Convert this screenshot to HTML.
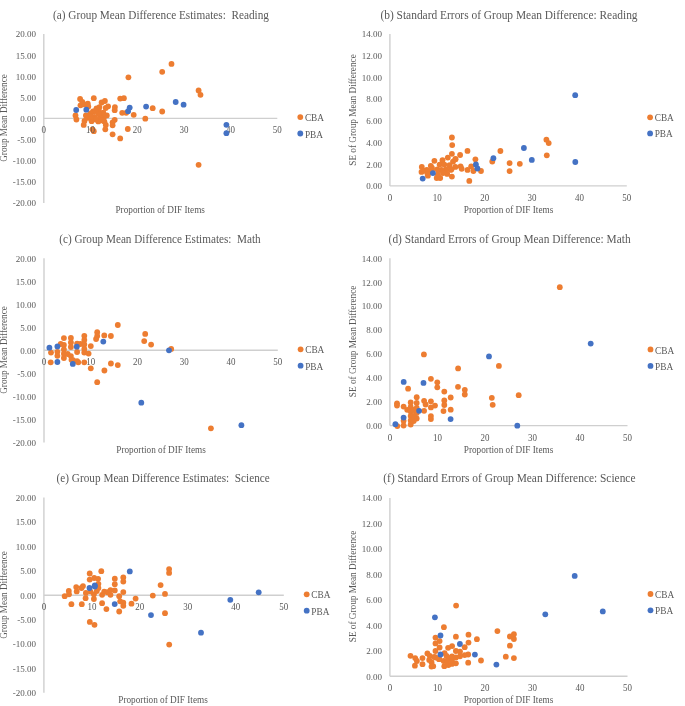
<!DOCTYPE html>
<html><head><meta charset="utf-8"><style>
html,body{margin:0;padding:0;background:#fff;width:685px;height:706px;overflow:hidden}
svg{display:block;will-change:transform}
text{font-family:"Liberation Serif",serif;fill:#595959}
</style></head><body>
<svg width="685" height="706" viewBox="0 0 685 706">
<rect width="685" height="706" fill="#fff"/>
<line x1="43.80" y1="34.10" x2="43.80" y2="202.90" stroke="#CFCFCF" stroke-width="1.4"/>
<line x1="43.80" y1="118.40" x2="277.30" y2="118.40" stroke="#CFCFCF" stroke-width="1.4"/>
<g fill="#ED7D31"><circle cx="80.1" cy="99.0" r="2.9"/><circle cx="93.8" cy="98.2" r="2.9"/><circle cx="80.5" cy="105.3" r="2.9"/><circle cx="84.3" cy="104.4" r="2.9"/><circle cx="87.8" cy="103.7" r="2.9"/><circle cx="88.3" cy="106.6" r="2.9"/><circle cx="75.5" cy="115.5" r="2.9"/><circle cx="76.4" cy="119.5" r="2.9"/><circle cx="101.6" cy="102.5" r="2.9"/><circle cx="104.9" cy="101.0" r="2.9"/><circle cx="108.1" cy="106.3" r="2.9"/><circle cx="105.7" cy="108.0" r="2.9"/><circle cx="99.4" cy="107.1" r="2.9"/><circle cx="97.6" cy="109.3" r="2.9"/><circle cx="96.5" cy="108.5" r="2.9"/><circle cx="93.0" cy="111.5" r="2.9"/><circle cx="114.9" cy="107.1" r="2.9"/><circle cx="114.7" cy="110.2" r="2.9"/><circle cx="120.2" cy="98.6" r="2.9"/><circle cx="123.9" cy="98.2" r="2.9"/><circle cx="122.2" cy="112.8" r="2.9"/><circle cx="126.2" cy="112.8" r="2.9"/><circle cx="106.8" cy="115.4" r="2.9"/><circle cx="102.9" cy="112.8" r="2.9"/><circle cx="103.8" cy="117.7" r="2.9"/><circle cx="99.4" cy="120.3" r="2.9"/><circle cx="104.4" cy="121.6" r="2.9"/><circle cx="85.9" cy="115.4" r="2.9"/><circle cx="84.5" cy="120.9" r="2.9"/><circle cx="83.7" cy="124.9" r="2.9"/><circle cx="91.6" cy="121.2" r="2.9"/><circle cx="98.3" cy="121.4" r="2.9"/><circle cx="98.8" cy="110.0" r="2.9"/><circle cx="95.4" cy="111.0" r="2.9"/><circle cx="90.4" cy="113.5" r="2.9"/><circle cx="87.9" cy="117.9" r="2.9"/><circle cx="94.4" cy="116.9" r="2.9"/><circle cx="100.3" cy="116.4" r="2.9"/><circle cx="101.8" cy="120.4" r="2.9"/><circle cx="103.3" cy="113.0" r="2.9"/><circle cx="105.8" cy="124.9" r="2.9"/><circle cx="105.3" cy="129.3" r="2.9"/><circle cx="92.5" cy="129.3" r="2.9"/><circle cx="93.8" cy="131.2" r="2.9"/><circle cx="82.3" cy="102.0" r="2.9"/><circle cx="91.0" cy="116.7" r="2.9"/><circle cx="98.4" cy="114.1" r="2.9"/><circle cx="96.0" cy="119.5" r="2.9"/><circle cx="114.7" cy="119.8" r="2.9"/><circle cx="112.6" cy="122.3" r="2.9"/><circle cx="112.6" cy="125.3" r="2.9"/><circle cx="112.6" cy="134.3" r="2.9"/><circle cx="120.2" cy="138.4" r="2.9"/><circle cx="127.8" cy="129.0" r="2.9"/><circle cx="133.7" cy="114.8" r="2.9"/><circle cx="145.3" cy="118.7" r="2.9"/><circle cx="152.7" cy="108.2" r="2.9"/><circle cx="162.2" cy="111.5" r="2.9"/><circle cx="128.4" cy="77.3" r="2.9"/><circle cx="162.2" cy="71.8" r="2.9"/><circle cx="171.5" cy="63.9" r="2.9"/><circle cx="198.6" cy="90.5" r="2.9"/><circle cx="200.5" cy="94.8" r="2.9"/><circle cx="198.6" cy="164.8" r="2.9"/></g>
<text x="36.00" y="34.40" font-size="9" text-anchor="end" dominant-baseline="central" >20.00</text>
<text x="36.00" y="55.50" font-size="9" text-anchor="end" dominant-baseline="central" >15.00</text>
<text x="36.00" y="76.60" font-size="9" text-anchor="end" dominant-baseline="central" >10.00</text>
<text x="36.00" y="97.70" font-size="9" text-anchor="end" dominant-baseline="central" >5.00</text>
<text x="36.00" y="118.80" font-size="9" text-anchor="end" dominant-baseline="central" >0.00</text>
<text x="36.00" y="139.90" font-size="9" text-anchor="end" dominant-baseline="central" >-5.00</text>
<text x="36.00" y="161.00" font-size="9" text-anchor="end" dominant-baseline="central" >-10.00</text>
<text x="36.00" y="182.10" font-size="9" text-anchor="end" dominant-baseline="central" >-15.00</text>
<text x="36.00" y="203.20" font-size="9" text-anchor="end" dominant-baseline="central" >-20.00</text>
<text x="0" y="0" font-size="9" text-anchor="middle" dominant-baseline="central" transform="translate(43.80,129.90) scale(1,1.08)" >0</text>
<text x="0" y="0" font-size="9" text-anchor="middle" dominant-baseline="central" transform="translate(90.50,129.90) scale(1,1.08)" >10</text>
<text x="0" y="0" font-size="9" text-anchor="middle" dominant-baseline="central" transform="translate(137.20,129.90) scale(1,1.08)" >20</text>
<text x="0" y="0" font-size="9" text-anchor="middle" dominant-baseline="central" transform="translate(183.90,129.90) scale(1,1.08)" >30</text>
<text x="0" y="0" font-size="9" text-anchor="middle" dominant-baseline="central" transform="translate(230.60,129.90) scale(1,1.08)" >40</text>
<text x="0" y="0" font-size="9" text-anchor="middle" dominant-baseline="central" transform="translate(277.30,129.90) scale(1,1.08)" >50</text>
<text x="161.00" y="14.90" font-size="12" text-anchor="middle" dominant-baseline="central" textLength="216.0" lengthAdjust="spacingAndGlyphs">(a) Group Mean Difference Estimates:  Reading</text>
<text x="160.20" y="210.40" font-size="9.5" text-anchor="middle" dominant-baseline="central" textLength="89.5" lengthAdjust="spacingAndGlyphs">Proportion of DIF Items</text>
<text x="0" y="0" font-size="9.5" text-anchor="middle" dominant-baseline="central" textLength="87.5" lengthAdjust="spacingAndGlyphs" transform="translate(3.7,118) rotate(-90)">Group Mean Difference</text>
<circle cx="300.3" cy="117.1" r="2.9" fill="#ED7D31"/>
<circle cx="300.3" cy="133.5" r="2.9" fill="#4472C4"/>
<text x="0" y="0" font-size="9.3" text-anchor="start" dominant-baseline="central" transform="translate(304.90,117.60) scale(1,1.08)" >CBA</text>
<text x="0" y="0" font-size="9.3" text-anchor="start" dominant-baseline="central" transform="translate(304.90,133.90) scale(1,1.08)" >PBA</text>
<g fill="#4472C4"><circle cx="76.2" cy="110.0" r="2.9"/><circle cx="86.3" cy="109.7" r="2.9"/><circle cx="129.7" cy="107.6" r="2.9"/><circle cx="128.1" cy="111.2" r="2.9"/><circle cx="146.1" cy="106.6" r="2.9"/><circle cx="175.7" cy="102.0" r="2.9"/><circle cx="183.6" cy="104.7" r="2.9"/><circle cx="226.4" cy="124.8" r="2.9"/><circle cx="226.4" cy="133.2" r="2.9"/></g>
<line x1="389.90" y1="34.10" x2="389.90" y2="185.90" stroke="#CFCFCF" stroke-width="1.4"/>
<line x1="389.90" y1="185.90" x2="626.80" y2="185.90" stroke="#CFCFCF" stroke-width="1.4"/>
<g fill="#ED7D31"><circle cx="451.9" cy="137.5" r="2.9"/><circle cx="452.2" cy="145.1" r="2.9"/><circle cx="451.9" cy="153.8" r="2.9"/><circle cx="447.8" cy="157.6" r="2.9"/><circle cx="434.4" cy="160.8" r="2.9"/><circle cx="421.8" cy="166.9" r="2.9"/><circle cx="442.5" cy="160.2" r="2.9"/><circle cx="455.4" cy="159.0" r="2.9"/><circle cx="453.0" cy="161.7" r="2.9"/><circle cx="430.8" cy="165.8" r="2.9"/><circle cx="421.5" cy="171.9" r="2.9"/><circle cx="427.9" cy="175.7" r="2.9"/><circle cx="436.7" cy="178.0" r="2.9"/><circle cx="440.2" cy="178.0" r="2.9"/><circle cx="451.9" cy="176.6" r="2.9"/><circle cx="439.6" cy="164.6" r="2.9"/><circle cx="444.3" cy="164.6" r="2.9"/><circle cx="449.5" cy="165.2" r="2.9"/><circle cx="450.7" cy="169.9" r="2.9"/><circle cx="446.0" cy="169.3" r="2.9"/><circle cx="441.4" cy="169.9" r="2.9"/><circle cx="437.3" cy="169.3" r="2.9"/><circle cx="447.2" cy="173.9" r="2.9"/><circle cx="437.9" cy="174.5" r="2.9"/><circle cx="426.8" cy="169.9" r="2.9"/><circle cx="455.4" cy="166.9" r="2.9"/><circle cx="432.0" cy="170.0" r="2.9"/><circle cx="443.0" cy="173.0" r="2.9"/><circle cx="424.5" cy="170.8" r="2.9"/><circle cx="430.0" cy="172.0" r="2.9"/><circle cx="432.0" cy="168.0" r="2.9"/><circle cx="427.5" cy="174.0" r="2.9"/><circle cx="467.5" cy="150.9" r="2.9"/><circle cx="460.1" cy="155.0" r="2.9"/><circle cx="455.5" cy="159.3" r="2.9"/><circle cx="460.6" cy="166.3" r="2.9"/><circle cx="461.7" cy="168.8" r="2.9"/><circle cx="467.5" cy="169.9" r="2.9"/><circle cx="471.2" cy="166.3" r="2.9"/><circle cx="473.4" cy="171.0" r="2.9"/><circle cx="481.0" cy="171.0" r="2.9"/><circle cx="475.4" cy="159.3" r="2.9"/><circle cx="492.3" cy="161.5" r="2.9"/><circle cx="469.3" cy="180.9" r="2.9"/><circle cx="451.5" cy="169.2" r="2.9"/><circle cx="500.4" cy="151.0" r="2.9"/><circle cx="509.6" cy="163.1" r="2.9"/><circle cx="509.6" cy="171.1" r="2.9"/><circle cx="519.8" cy="163.8" r="2.9"/><circle cx="546.4" cy="139.7" r="2.9"/><circle cx="548.7" cy="143.1" r="2.9"/><circle cx="546.8" cy="155.3" r="2.9"/></g>
<text x="382.00" y="34.40" font-size="9" text-anchor="end" dominant-baseline="central" >14.00</text>
<text x="382.00" y="56.09" font-size="9" text-anchor="end" dominant-baseline="central" >12.00</text>
<text x="382.00" y="77.77" font-size="9" text-anchor="end" dominant-baseline="central" >10.00</text>
<text x="382.00" y="99.46" font-size="9" text-anchor="end" dominant-baseline="central" >8.00</text>
<text x="382.00" y="121.14" font-size="9" text-anchor="end" dominant-baseline="central" >6.00</text>
<text x="382.00" y="142.83" font-size="9" text-anchor="end" dominant-baseline="central" >4.00</text>
<text x="382.00" y="164.51" font-size="9" text-anchor="end" dominant-baseline="central" >2.00</text>
<text x="382.00" y="186.20" font-size="9" text-anchor="end" dominant-baseline="central" >0.00</text>
<text x="0" y="0" font-size="9" text-anchor="middle" dominant-baseline="central" transform="translate(389.90,197.70) scale(1,1.08)" >0</text>
<text x="0" y="0" font-size="9" text-anchor="middle" dominant-baseline="central" transform="translate(437.28,197.70) scale(1,1.08)" >10</text>
<text x="0" y="0" font-size="9" text-anchor="middle" dominant-baseline="central" transform="translate(484.66,197.70) scale(1,1.08)" >20</text>
<text x="0" y="0" font-size="9" text-anchor="middle" dominant-baseline="central" transform="translate(532.04,197.70) scale(1,1.08)" >30</text>
<text x="0" y="0" font-size="9" text-anchor="middle" dominant-baseline="central" transform="translate(579.42,197.70) scale(1,1.08)" >40</text>
<text x="0" y="0" font-size="9" text-anchor="middle" dominant-baseline="central" transform="translate(626.80,197.70) scale(1,1.08)" >50</text>
<text x="509.00" y="14.70" font-size="12" text-anchor="middle" dominant-baseline="central" textLength="257.20000000000005" lengthAdjust="spacingAndGlyphs">(b) Standard Errors of Group Mean Difference: Reading</text>
<text x="508.50" y="210.40" font-size="9.5" text-anchor="middle" dominant-baseline="central" textLength="89.5" lengthAdjust="spacingAndGlyphs">Proportion of DIF Items</text>
<text x="0" y="0" font-size="9.5" text-anchor="middle" dominant-baseline="central" textLength="111.5" lengthAdjust="spacingAndGlyphs" transform="translate(352.9,110) rotate(-90)">SE of Group Mean Difference</text>
<circle cx="650.1" cy="117.3" r="2.9" fill="#ED7D31"/>
<circle cx="650.1" cy="133.4" r="2.9" fill="#4472C4"/>
<text x="0" y="0" font-size="9.3" text-anchor="start" dominant-baseline="central" transform="translate(654.70,117.80) scale(1,1.08)" >CBA</text>
<text x="0" y="0" font-size="9.3" text-anchor="start" dominant-baseline="central" transform="translate(654.70,133.80) scale(1,1.08)" >PBA</text>
<g fill="#4472C4"><circle cx="432.9" cy="173.1" r="2.9"/><circle cx="422.7" cy="178.6" r="2.9"/><circle cx="475.9" cy="164.5" r="2.9"/><circle cx="477.4" cy="168.5" r="2.9"/><circle cx="493.4" cy="158.2" r="2.9"/><circle cx="523.9" cy="148.0" r="2.9"/><circle cx="531.8" cy="159.9" r="2.9"/><circle cx="575.3" cy="162.0" r="2.9"/><circle cx="575.2" cy="95.2" r="2.9"/></g>
<line x1="44.00" y1="258.30" x2="44.00" y2="442.50" stroke="#CFCFCF" stroke-width="1.4"/>
<line x1="44.00" y1="350.30" x2="277.80" y2="350.30" stroke="#CFCFCF" stroke-width="1.4"/>
<g fill="#ED7D31"><circle cx="51.0" cy="352.6" r="2.9"/><circle cx="50.7" cy="362.3" r="2.9"/><circle cx="57.4" cy="351.8" r="2.9"/><circle cx="57.4" cy="355.8" r="2.9"/><circle cx="63.9" cy="338.1" r="2.9"/><circle cx="60.7" cy="344.0" r="2.9"/><circle cx="63.9" cy="345.0" r="2.9"/><circle cx="63.9" cy="349.4" r="2.9"/><circle cx="63.9" cy="353.7" r="2.9"/><circle cx="63.9" cy="358.0" r="2.9"/><circle cx="70.9" cy="338.0" r="2.9"/><circle cx="70.9" cy="342.5" r="2.9"/><circle cx="70.9" cy="347.0" r="2.9"/><circle cx="67.7" cy="354.0" r="2.9"/><circle cx="80.5" cy="344.0" r="2.9"/><circle cx="70.9" cy="356.1" r="2.9"/><circle cx="71.5" cy="359.8" r="2.9"/><circle cx="73.0" cy="360.1" r="2.9"/><circle cx="77.1" cy="343.6" r="2.9"/><circle cx="77.1" cy="352.0" r="2.9"/><circle cx="77.1" cy="361.1" r="2.9"/><circle cx="78.3" cy="362.3" r="2.9"/><circle cx="84.3" cy="362.3" r="2.9"/><circle cx="84.3" cy="335.8" r="2.9"/><circle cx="84.3" cy="340.0" r="2.9"/><circle cx="84.3" cy="344.5" r="2.9"/><circle cx="84.3" cy="349.0" r="2.9"/><circle cx="84.3" cy="352.5" r="2.9"/><circle cx="88.6" cy="353.6" r="2.9"/><circle cx="90.8" cy="346.1" r="2.9"/><circle cx="90.8" cy="368.3" r="2.9"/><circle cx="97.2" cy="382.2" r="2.9"/><circle cx="104.4" cy="370.5" r="2.9"/><circle cx="110.9" cy="363.5" r="2.9"/><circle cx="117.8" cy="365.1" r="2.9"/><circle cx="97.2" cy="332.2" r="2.9"/><circle cx="97.2" cy="336.0" r="2.9"/><circle cx="96.1" cy="339.0" r="2.9"/><circle cx="104.3" cy="335.4" r="2.9"/><circle cx="110.9" cy="336.0" r="2.9"/><circle cx="117.8" cy="325.0" r="2.9"/><circle cx="145.2" cy="333.9" r="2.9"/><circle cx="144.2" cy="341.1" r="2.9"/><circle cx="151.1" cy="344.6" r="2.9"/><circle cx="171.2" cy="348.9" r="2.9"/><circle cx="210.9" cy="428.3" r="2.9"/></g>
<text x="36.00" y="258.60" font-size="9" text-anchor="end" dominant-baseline="central" >20.00</text>
<text x="36.00" y="281.62" font-size="9" text-anchor="end" dominant-baseline="central" >15.00</text>
<text x="36.00" y="304.65" font-size="9" text-anchor="end" dominant-baseline="central" >10.00</text>
<text x="36.00" y="327.68" font-size="9" text-anchor="end" dominant-baseline="central" >5.00</text>
<text x="36.00" y="350.70" font-size="9" text-anchor="end" dominant-baseline="central" >0.00</text>
<text x="36.00" y="373.73" font-size="9" text-anchor="end" dominant-baseline="central" >-5.00</text>
<text x="36.00" y="396.75" font-size="9" text-anchor="end" dominant-baseline="central" >-10.00</text>
<text x="36.00" y="419.78" font-size="9" text-anchor="end" dominant-baseline="central" >-15.00</text>
<text x="36.00" y="442.80" font-size="9" text-anchor="end" dominant-baseline="central" >-20.00</text>
<text x="0" y="0" font-size="9" text-anchor="middle" dominant-baseline="central" transform="translate(44.00,362.00) scale(1,1.08)" >0</text>
<text x="0" y="0" font-size="9" text-anchor="middle" dominant-baseline="central" transform="translate(90.76,362.00) scale(1,1.08)" >10</text>
<text x="0" y="0" font-size="9" text-anchor="middle" dominant-baseline="central" transform="translate(137.52,362.00) scale(1,1.08)" >20</text>
<text x="0" y="0" font-size="9" text-anchor="middle" dominant-baseline="central" transform="translate(184.28,362.00) scale(1,1.08)" >30</text>
<text x="0" y="0" font-size="9" text-anchor="middle" dominant-baseline="central" transform="translate(231.04,362.00) scale(1,1.08)" >40</text>
<text x="0" y="0" font-size="9" text-anchor="middle" dominant-baseline="central" transform="translate(277.80,362.00) scale(1,1.08)" >50</text>
<text x="160.00" y="239.20" font-size="12" text-anchor="middle" dominant-baseline="central" textLength="201.4" lengthAdjust="spacingAndGlyphs">(c) Group Mean Difference Estimates:  Math</text>
<text x="161.00" y="449.50" font-size="9.5" text-anchor="middle" dominant-baseline="central" textLength="89.5" lengthAdjust="spacingAndGlyphs">Proportion of DIF Items</text>
<text x="0" y="0" font-size="9.5" text-anchor="middle" dominant-baseline="central" textLength="87.5" lengthAdjust="spacingAndGlyphs" transform="translate(3.7,350) rotate(-90)">Group Mean Difference</text>
<circle cx="300.6" cy="349.3" r="2.9" fill="#ED7D31"/>
<circle cx="300.6" cy="365.7" r="2.9" fill="#4472C4"/>
<text x="0" y="0" font-size="9.3" text-anchor="start" dominant-baseline="central" transform="translate(305.20,349.80) scale(1,1.08)" >CBA</text>
<text x="0" y="0" font-size="9.3" text-anchor="start" dominant-baseline="central" transform="translate(305.20,366.10) scale(1,1.08)" >PBA</text>
<g fill="#4472C4"><circle cx="49.4" cy="347.7" r="2.9"/><circle cx="57.4" cy="346.4" r="2.9"/><circle cx="57.4" cy="362.0" r="2.9"/><circle cx="72.8" cy="363.9" r="2.9"/><circle cx="76.8" cy="346.7" r="2.9"/><circle cx="103.3" cy="341.6" r="2.9"/><circle cx="141.3" cy="402.7" r="2.9"/><circle cx="169.0" cy="350.3" r="2.9"/><circle cx="241.4" cy="425.2" r="2.9"/></g>
<line x1="389.90" y1="258.30" x2="389.90" y2="425.60" stroke="#CFCFCF" stroke-width="1.4"/>
<line x1="389.90" y1="425.60" x2="627.50" y2="425.60" stroke="#CFCFCF" stroke-width="1.4"/>
<g fill="#ED7D31"><circle cx="397.0" cy="403.3" r="2.9"/><circle cx="397.0" cy="405.5" r="2.9"/><circle cx="403.6" cy="406.6" r="2.9"/><circle cx="407.2" cy="409.8" r="2.9"/><circle cx="410.7" cy="402.4" r="2.9"/><circle cx="410.7" cy="407.0" r="2.9"/><circle cx="410.7" cy="411.5" r="2.9"/><circle cx="410.7" cy="416.0" r="2.9"/><circle cx="410.7" cy="420.5" r="2.9"/><circle cx="410.7" cy="424.5" r="2.9"/><circle cx="416.7" cy="397.2" r="2.9"/><circle cx="416.7" cy="403.0" r="2.9"/><circle cx="416.7" cy="408.0" r="2.9"/><circle cx="416.7" cy="413.0" r="2.9"/><circle cx="416.7" cy="418.5" r="2.9"/><circle cx="424.1" cy="400.8" r="2.9"/><circle cx="413.7" cy="410.0" r="2.9"/><circle cx="413.7" cy="416.0" r="2.9"/><circle cx="413.7" cy="421.0" r="2.9"/><circle cx="425.6" cy="404.5" r="2.9"/><circle cx="424.1" cy="410.8" r="2.9"/><circle cx="403.6" cy="420.8" r="2.9"/><circle cx="403.6" cy="425.5" r="2.9"/><circle cx="397.3" cy="426.1" r="2.9"/><circle cx="430.9" cy="401.3" r="2.9"/><circle cx="435.0" cy="405.6" r="2.9"/><circle cx="430.9" cy="407.4" r="2.9"/><circle cx="430.9" cy="416.1" r="2.9"/><circle cx="430.9" cy="419.1" r="2.9"/><circle cx="444.3" cy="400.4" r="2.9"/><circle cx="444.3" cy="405.0" r="2.9"/><circle cx="443.5" cy="411.1" r="2.9"/><circle cx="450.7" cy="409.7" r="2.9"/><circle cx="408.1" cy="388.7" r="2.9"/><circle cx="430.9" cy="378.8" r="2.9"/><circle cx="437.3" cy="382.3" r="2.9"/><circle cx="437.3" cy="387.3" r="2.9"/><circle cx="444.3" cy="391.6" r="2.9"/><circle cx="450.7" cy="397.5" r="2.9"/><circle cx="458.0" cy="386.8" r="2.9"/><circle cx="464.8" cy="389.8" r="2.9"/><circle cx="464.8" cy="394.5" r="2.9"/><circle cx="423.9" cy="354.4" r="2.9"/><circle cx="458.1" cy="368.4" r="2.9"/><circle cx="491.8" cy="397.8" r="2.9"/><circle cx="492.7" cy="404.8" r="2.9"/><circle cx="498.9" cy="365.9" r="2.9"/><circle cx="518.7" cy="395.2" r="2.9"/><circle cx="559.8" cy="287.2" r="2.9"/></g>
<text x="382.00" y="258.60" font-size="9" text-anchor="end" dominant-baseline="central" >14.00</text>
<text x="382.00" y="282.50" font-size="9" text-anchor="end" dominant-baseline="central" >12.00</text>
<text x="382.00" y="306.40" font-size="9" text-anchor="end" dominant-baseline="central" >10.00</text>
<text x="382.00" y="330.30" font-size="9" text-anchor="end" dominant-baseline="central" >8.00</text>
<text x="382.00" y="354.20" font-size="9" text-anchor="end" dominant-baseline="central" >6.00</text>
<text x="382.00" y="378.10" font-size="9" text-anchor="end" dominant-baseline="central" >4.00</text>
<text x="382.00" y="402.00" font-size="9" text-anchor="end" dominant-baseline="central" >2.00</text>
<text x="382.00" y="425.90" font-size="9" text-anchor="end" dominant-baseline="central" >0.00</text>
<text x="0" y="0" font-size="9" text-anchor="middle" dominant-baseline="central" transform="translate(389.90,437.50) scale(1,1.08)" >0</text>
<text x="0" y="0" font-size="9" text-anchor="middle" dominant-baseline="central" transform="translate(437.42,437.50) scale(1,1.08)" >10</text>
<text x="0" y="0" font-size="9" text-anchor="middle" dominant-baseline="central" transform="translate(484.94,437.50) scale(1,1.08)" >20</text>
<text x="0" y="0" font-size="9" text-anchor="middle" dominant-baseline="central" transform="translate(532.46,437.50) scale(1,1.08)" >30</text>
<text x="0" y="0" font-size="9" text-anchor="middle" dominant-baseline="central" transform="translate(579.98,437.50) scale(1,1.08)" >40</text>
<text x="0" y="0" font-size="9" text-anchor="middle" dominant-baseline="central" transform="translate(627.50,437.50) scale(1,1.08)" >50</text>
<text x="509.60" y="238.90" font-size="12" text-anchor="middle" dominant-baseline="central" textLength="242.0" lengthAdjust="spacingAndGlyphs">(d) Standard Errors of Group Mean Difference: Math</text>
<text x="508.50" y="449.80" font-size="9.5" text-anchor="middle" dominant-baseline="central" textLength="89.5" lengthAdjust="spacingAndGlyphs">Proportion of DIF Items</text>
<text x="0" y="0" font-size="9.5" text-anchor="middle" dominant-baseline="central" textLength="111.5" lengthAdjust="spacingAndGlyphs" transform="translate(352.9,341.4) rotate(-90)">SE of Group Mean Difference</text>
<circle cx="650.5" cy="349.4" r="2.9" fill="#ED7D31"/>
<circle cx="650.5" cy="365.9" r="2.9" fill="#4472C4"/>
<text x="0" y="0" font-size="9.3" text-anchor="start" dominant-baseline="central" transform="translate(655.10,349.90) scale(1,1.08)" >CBA</text>
<text x="0" y="0" font-size="9.3" text-anchor="start" dominant-baseline="central" transform="translate(655.10,366.30) scale(1,1.08)" >PBA</text>
<g fill="#4472C4"><circle cx="403.7" cy="381.9" r="2.9"/><circle cx="423.5" cy="382.9" r="2.9"/><circle cx="419.1" cy="410.8" r="2.9"/><circle cx="403.6" cy="417.6" r="2.9"/><circle cx="395.4" cy="424.2" r="2.9"/><circle cx="450.6" cy="419.1" r="2.9"/><circle cx="489.0" cy="356.4" r="2.9"/><circle cx="517.3" cy="425.7" r="2.9"/><circle cx="590.7" cy="343.6" r="2.9"/></g>
<line x1="43.90" y1="497.60" x2="43.90" y2="692.80" stroke="#CFCFCF" stroke-width="1.4"/>
<line x1="43.90" y1="595.30" x2="283.80" y2="595.30" stroke="#CFCFCF" stroke-width="1.4"/>
<g fill="#ED7D31"><circle cx="64.7" cy="596.2" r="2.9"/><circle cx="68.8" cy="590.9" r="2.9"/><circle cx="69.0" cy="594.3" r="2.9"/><circle cx="71.4" cy="604.2" r="2.9"/><circle cx="81.8" cy="604.2" r="2.9"/><circle cx="76.2" cy="587.1" r="2.9"/><circle cx="76.7" cy="591.4" r="2.9"/><circle cx="83.0" cy="586.1" r="2.9"/><circle cx="81.5" cy="588.0" r="2.9"/><circle cx="85.9" cy="592.9" r="2.9"/><circle cx="85.6" cy="598.2" r="2.9"/><circle cx="101.3" cy="571.2" r="2.9"/><circle cx="89.7" cy="573.5" r="2.9"/><circle cx="89.7" cy="579.6" r="2.9"/><circle cx="94.2" cy="578.0" r="2.9"/><circle cx="98.1" cy="578.8" r="2.9"/><circle cx="98.4" cy="583.8" r="2.9"/><circle cx="98.4" cy="588.0" r="2.9"/><circle cx="90.5" cy="591.6" r="2.9"/><circle cx="93.9" cy="594.3" r="2.9"/><circle cx="93.9" cy="599.0" r="2.9"/><circle cx="96.8" cy="591.1" r="2.9"/><circle cx="102.1" cy="594.8" r="2.9"/><circle cx="104.2" cy="591.6" r="2.9"/><circle cx="107.3" cy="592.2" r="2.9"/><circle cx="110.5" cy="590.1" r="2.9"/><circle cx="110.5" cy="594.8" r="2.9"/><circle cx="102.1" cy="603.2" r="2.9"/><circle cx="106.4" cy="609.1" r="2.9"/><circle cx="114.8" cy="578.7" r="2.9"/><circle cx="114.8" cy="584.2" r="2.9"/><circle cx="114.8" cy="590.4" r="2.9"/><circle cx="123.3" cy="577.5" r="2.9"/><circle cx="123.3" cy="581.6" r="2.9"/><circle cx="123.3" cy="592.1" r="2.9"/><circle cx="119.2" cy="596.2" r="2.9"/><circle cx="120.2" cy="601.3" r="2.9"/><circle cx="123.3" cy="602.7" r="2.9"/><circle cx="123.3" cy="605.8" r="2.9"/><circle cx="119.2" cy="611.5" r="2.9"/><circle cx="131.5" cy="603.7" r="2.9"/><circle cx="135.6" cy="598.6" r="2.9"/><circle cx="89.8" cy="621.9" r="2.9"/><circle cx="94.5" cy="624.8" r="2.9"/><circle cx="169.1" cy="569.1" r="2.9"/><circle cx="169.1" cy="572.9" r="2.9"/><circle cx="160.6" cy="585.1" r="2.9"/><circle cx="165.0" cy="593.9" r="2.9"/><circle cx="152.8" cy="595.6" r="2.9"/><circle cx="165.0" cy="613.2" r="2.9"/><circle cx="169.2" cy="644.6" r="2.9"/></g>
<text x="36.00" y="497.90" font-size="9" text-anchor="end" dominant-baseline="central" >20.00</text>
<text x="36.00" y="522.30" font-size="9" text-anchor="end" dominant-baseline="central" >15.00</text>
<text x="36.00" y="546.70" font-size="9" text-anchor="end" dominant-baseline="central" >10.00</text>
<text x="36.00" y="571.10" font-size="9" text-anchor="end" dominant-baseline="central" >5.00</text>
<text x="36.00" y="595.50" font-size="9" text-anchor="end" dominant-baseline="central" >0.00</text>
<text x="36.00" y="619.90" font-size="9" text-anchor="end" dominant-baseline="central" >-5.00</text>
<text x="36.00" y="644.30" font-size="9" text-anchor="end" dominant-baseline="central" >-10.00</text>
<text x="36.00" y="668.70" font-size="9" text-anchor="end" dominant-baseline="central" >-15.00</text>
<text x="36.00" y="693.10" font-size="9" text-anchor="end" dominant-baseline="central" >-20.00</text>
<text x="0" y="0" font-size="9" text-anchor="middle" dominant-baseline="central" transform="translate(43.90,606.70) scale(1,1.08)" >0</text>
<text x="0" y="0" font-size="9" text-anchor="middle" dominant-baseline="central" transform="translate(91.88,606.70) scale(1,1.08)" >10</text>
<text x="0" y="0" font-size="9" text-anchor="middle" dominant-baseline="central" transform="translate(139.86,606.70) scale(1,1.08)" >20</text>
<text x="0" y="0" font-size="9" text-anchor="middle" dominant-baseline="central" transform="translate(187.84,606.70) scale(1,1.08)" >30</text>
<text x="0" y="0" font-size="9" text-anchor="middle" dominant-baseline="central" transform="translate(235.82,606.70) scale(1,1.08)" >40</text>
<text x="0" y="0" font-size="9" text-anchor="middle" dominant-baseline="central" transform="translate(283.80,606.70) scale(1,1.08)" >50</text>
<text x="163.20" y="478.10" font-size="12" text-anchor="middle" dominant-baseline="central" textLength="213.2" lengthAdjust="spacingAndGlyphs">(e) Group Mean Difference Estimates:  Science</text>
<text x="163.00" y="700.40" font-size="9.5" text-anchor="middle" dominant-baseline="central" textLength="89.5" lengthAdjust="spacingAndGlyphs">Proportion of DIF Items</text>
<text x="0" y="0" font-size="9.5" text-anchor="middle" dominant-baseline="central" textLength="87.5" lengthAdjust="spacingAndGlyphs" transform="translate(3.7,595) rotate(-90)">Group Mean Difference</text>
<circle cx="306.7" cy="594.3" r="2.9" fill="#ED7D31"/>
<circle cx="306.7" cy="610.7" r="2.9" fill="#4472C4"/>
<text x="0" y="0" font-size="9.3" text-anchor="start" dominant-baseline="central" transform="translate(311.30,594.80) scale(1,1.08)" >CBA</text>
<text x="0" y="0" font-size="9.3" text-anchor="start" dominant-baseline="central" transform="translate(311.30,611.10) scale(1,1.08)" >PBA</text>
<g fill="#4472C4"><circle cx="89.5" cy="588.0" r="2.9"/><circle cx="94.8" cy="585.4" r="2.9"/><circle cx="94.8" cy="586.5" r="2.9"/><circle cx="114.7" cy="604.1" r="2.9"/><circle cx="129.8" cy="571.4" r="2.9"/><circle cx="151.0" cy="615.1" r="2.9"/><circle cx="201.0" cy="632.7" r="2.9"/><circle cx="230.3" cy="599.8" r="2.9"/><circle cx="258.7" cy="592.3" r="2.9"/></g>
<line x1="389.90" y1="497.90" x2="389.90" y2="676.20" stroke="#CFCFCF" stroke-width="1.4"/>
<line x1="389.90" y1="676.20" x2="627.50" y2="676.20" stroke="#CFCFCF" stroke-width="1.4"/>
<g fill="#ED7D31"><circle cx="410.5" cy="655.8" r="2.9"/><circle cx="415.2" cy="658.1" r="2.9"/><circle cx="416.9" cy="661.0" r="2.9"/><circle cx="414.9" cy="665.7" r="2.9"/><circle cx="422.5" cy="658.1" r="2.9"/><circle cx="422.5" cy="664.2" r="2.9"/><circle cx="427.4" cy="653.4" r="2.9"/><circle cx="429.8" cy="655.8" r="2.9"/><circle cx="429.2" cy="659.9" r="2.9"/><circle cx="431.5" cy="662.2" r="2.9"/><circle cx="431.5" cy="666.6" r="2.9"/><circle cx="435.6" cy="657.5" r="2.9"/><circle cx="439.1" cy="658.7" r="2.9"/><circle cx="434.3" cy="656.9" r="2.9"/><circle cx="433.2" cy="666.2" r="2.9"/><circle cx="435.5" cy="637.6" r="2.9"/><circle cx="439.6" cy="641.1" r="2.9"/><circle cx="435.5" cy="643.4" r="2.9"/><circle cx="439.6" cy="647.5" r="2.9"/><circle cx="435.5" cy="651.0" r="2.9"/><circle cx="444.6" cy="653.1" r="2.9"/><circle cx="443.9" cy="627.2" r="2.9"/><circle cx="456.1" cy="605.6" r="2.9"/><circle cx="455.9" cy="636.7" r="2.9"/><circle cx="468.5" cy="634.7" r="2.9"/><circle cx="468.5" cy="642.6" r="2.9"/><circle cx="464.7" cy="647.2" r="2.9"/><circle cx="448.1" cy="647.8" r="2.9"/><circle cx="452.1" cy="646.1" r="2.9"/><circle cx="455.9" cy="651.0" r="2.9"/><circle cx="460.0" cy="651.6" r="2.9"/><circle cx="468.2" cy="654.5" r="2.9"/><circle cx="464.7" cy="655.1" r="2.9"/><circle cx="460.0" cy="656.3" r="2.9"/><circle cx="455.9" cy="657.4" r="2.9"/><circle cx="468.2" cy="662.7" r="2.9"/><circle cx="455.9" cy="663.3" r="2.9"/><circle cx="451.9" cy="663.9" r="2.9"/><circle cx="448.4" cy="658.0" r="2.9"/><circle cx="448.4" cy="665.0" r="2.9"/><circle cx="444.3" cy="666.2" r="2.9"/><circle cx="443.7" cy="661.0" r="2.9"/><circle cx="439.0" cy="659.2" r="2.9"/><circle cx="451.9" cy="660.4" r="2.9"/><circle cx="447.0" cy="661.5" r="2.9"/><circle cx="452.0" cy="656.5" r="2.9"/><circle cx="446.5" cy="656.0" r="2.9"/><circle cx="476.9" cy="639.2" r="2.9"/><circle cx="481.0" cy="660.5" r="2.9"/><circle cx="497.4" cy="631.1" r="2.9"/><circle cx="509.9" cy="636.5" r="2.9"/><circle cx="513.9" cy="634.2" r="2.9"/><circle cx="513.9" cy="639.0" r="2.9"/><circle cx="509.9" cy="645.7" r="2.9"/><circle cx="505.8" cy="656.7" r="2.9"/><circle cx="513.9" cy="658.1" r="2.9"/></g>
<text x="382.00" y="498.20" font-size="9" text-anchor="end" dominant-baseline="central" >14.00</text>
<text x="382.00" y="523.67" font-size="9" text-anchor="end" dominant-baseline="central" >12.00</text>
<text x="382.00" y="549.14" font-size="9" text-anchor="end" dominant-baseline="central" >10.00</text>
<text x="382.00" y="574.61" font-size="9" text-anchor="end" dominant-baseline="central" >8.00</text>
<text x="382.00" y="600.09" font-size="9" text-anchor="end" dominant-baseline="central" >6.00</text>
<text x="382.00" y="625.56" font-size="9" text-anchor="end" dominant-baseline="central" >4.00</text>
<text x="382.00" y="651.03" font-size="9" text-anchor="end" dominant-baseline="central" >2.00</text>
<text x="382.00" y="676.50" font-size="9" text-anchor="end" dominant-baseline="central" >0.00</text>
<text x="0" y="0" font-size="9" text-anchor="middle" dominant-baseline="central" transform="translate(389.90,687.60) scale(1,1.08)" >0</text>
<text x="0" y="0" font-size="9" text-anchor="middle" dominant-baseline="central" transform="translate(437.42,687.60) scale(1,1.08)" >10</text>
<text x="0" y="0" font-size="9" text-anchor="middle" dominant-baseline="central" transform="translate(484.94,687.60) scale(1,1.08)" >20</text>
<text x="0" y="0" font-size="9" text-anchor="middle" dominant-baseline="central" transform="translate(532.46,687.60) scale(1,1.08)" >30</text>
<text x="0" y="0" font-size="9" text-anchor="middle" dominant-baseline="central" transform="translate(579.98,687.60) scale(1,1.08)" >40</text>
<text x="0" y="0" font-size="9" text-anchor="middle" dominant-baseline="central" transform="translate(627.50,687.60) scale(1,1.08)" >50</text>
<text x="509.40" y="478.10" font-size="12" text-anchor="middle" dominant-baseline="central" textLength="252.2" lengthAdjust="spacingAndGlyphs">(f) Standard Errors of Group Mean Difference: Science</text>
<text x="508.50" y="700.30" font-size="9.5" text-anchor="middle" dominant-baseline="central" textLength="89.5" lengthAdjust="spacingAndGlyphs">Proportion of DIF Items</text>
<text x="0" y="0" font-size="9.5" text-anchor="middle" dominant-baseline="central" textLength="111.5" lengthAdjust="spacingAndGlyphs" transform="translate(352.9,586.5) rotate(-90)">SE of Group Mean Difference</text>
<circle cx="650.5" cy="594" r="2.9" fill="#ED7D31"/>
<circle cx="650.5" cy="610.3" r="2.9" fill="#4472C4"/>
<text x="0" y="0" font-size="9.3" text-anchor="start" dominant-baseline="central" transform="translate(655.10,594.50) scale(1,1.08)" >CBA</text>
<text x="0" y="0" font-size="9.3" text-anchor="start" dominant-baseline="central" transform="translate(655.10,610.70) scale(1,1.08)" >PBA</text>
<g fill="#4472C4"><circle cx="434.9" cy="617.3" r="2.9"/><circle cx="440.5" cy="635.5" r="2.9"/><circle cx="440.5" cy="654.5" r="2.9"/><circle cx="459.9" cy="644.0" r="2.9"/><circle cx="474.9" cy="654.6" r="2.9"/><circle cx="496.4" cy="664.6" r="2.9"/><circle cx="545.3" cy="614.3" r="2.9"/><circle cx="574.7" cy="575.9" r="2.9"/><circle cx="602.8" cy="611.4" r="2.9"/></g>
</svg>
</body></html>
